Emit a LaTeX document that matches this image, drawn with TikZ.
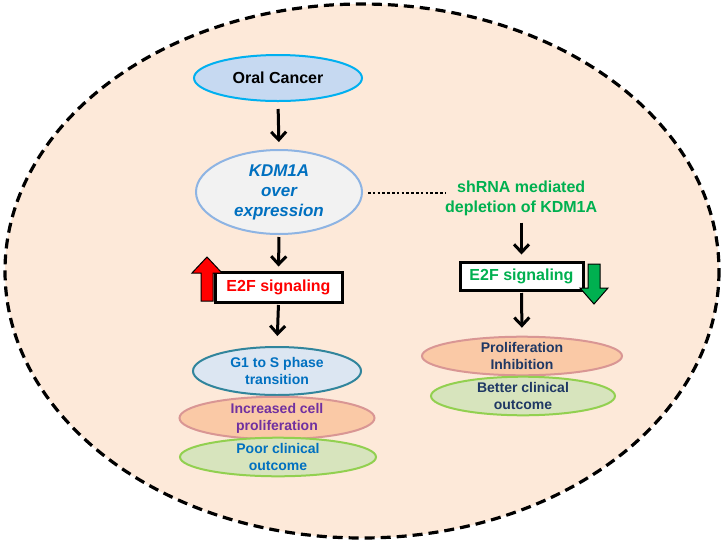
\documentclass[tikz,border=0pt]{standalone}
\usepackage{fontspec}
\setmainfont{Liberation Sans}
\usetikzlibrary{shapes.geometric,arrows.meta}
\definecolor{bgpeach}{HTML}{FDE9D9}
\definecolor{ocfill}{HTML}{C6D9F1}
\definecolor{ocdraw}{HTML}{00B0F0}
\definecolor{kdmfill}{HTML}{F2F2F2}
\definecolor{kdmdraw}{HTML}{8EB4E3}
\definecolor{txtblue}{HTML}{0070C0}
\definecolor{gfill}{HTML}{DCE6F2}
\definecolor{gdraw}{HTML}{31859C}
\definecolor{pfill}{HTML}{FAC9A6}
\definecolor{pdraw}{HTML}{D99694}
\definecolor{purp}{HTML}{7030A0}
\definecolor{grfill}{HTML}{D7E4BD}
\definecolor{grdraw}{HTML}{92D050}
\definecolor{navy}{HTML}{1F3864}
\definecolor{mygreen}{HTML}{00B050}
\begin{document}
\begin{tikzpicture}[x=1pt,y=-1pt,
  oval/.style={ellipse,inner sep=0pt,line width=2pt,align=center,font=\bfseries\fontsize{14}{17}\selectfont},
  sigbox/.style={rectangle,draw=black,fill=white,line width=3pt,inner sep=0pt,font=\bfseries\fontsize{16}{19}\selectfont},
  flow/.style={line width=3pt,-{Straight Barb[length=8pt,width=15pt,line width=3pt]}},
  bigarrow/.style={draw=black,line width=1pt,line join=miter}]
\useasboundingbox (0,0) rectangle (724,542);
\draw[fill=bgpeach,draw=black,line width=3.2pt,dash pattern=on 10pt off 6pt] (362,271) ellipse [x radius=357, y radius=267];

\node[oval,fill=ocfill,draw=ocdraw,minimum width=168pt,minimum height=46pt,font=\bfseries\fontsize{16}{19}\selectfont] (oral) at (278,78) {Oral Cancer};
\node[oval,fill=kdmfill,draw=kdmdraw,minimum width=166pt,minimum height=84pt,text=txtblue,font=\bfseries\itshape\fontsize{17}{20}\selectfont] (kdm) at (279,192) {KDM1A\\over\\expression};

\node[sigbox,text=red,minimum width=127pt,minimum height=30pt] (e2fl) at (278.5,287) {E2F signaling};
\draw[bigarrow,fill=red] (201,301) -- (201,273) -- (192,273) -- (207,257) -- (222,273) -- (213,273) -- (213,301) -- cycle;

\node[oval,fill=gfill,draw=gdraw,minimum width=168pt,minimum height=48pt,text=txtblue] (g1) at (277,371) {G1 to S phase\\transition};
\node[oval,fill=pfill,draw=pdraw,minimum width=195pt,minimum height=38pt,text=purp] (inc) at (277,418) {Increased cell\\proliferation};
\node[oval,fill=grfill,draw=grdraw,minimum width=196pt,minimum height=36pt,text=txtblue] (poor) at (278,457) {Poor clinical\\outcome};

\node[inner sep=0pt,align=center,text=mygreen,font=\bfseries\fontsize{16}{20}\selectfont,anchor=west] (sh) at (445,198) {shRNA mediated\\depletion of KDM1A};

\node[sigbox,text=mygreen,minimum width=123pt,minimum height=28pt] (e2fr) at (521.5,276) {E2F signaling};
\draw[bigarrow,fill=mygreen] (588,264) -- (600,264) -- (600,288) -- (608,288) -- (594,304) -- (580,288) -- (588,288) -- cycle;

\node[oval,fill=pfill,draw=pdraw,minimum width=200pt,minimum height=37pt,text=navy] (prol) at (522,356) {Proliferation\\Inhibition};
\node[oval,fill=grfill,draw=grdraw,minimum width=184pt,minimum height=32pt,text=navy] (better) at (523,396) {Better clinical\\outcome};

\draw[flow,shorten <=7pt,shorten >=7pt] (oral.south) -- (kdm.north);
\draw[flow,shorten <=2pt,shorten >=4pt] (kdm.south) -- (e2fl.north);
\draw[flow,shorten <=1.5pt,shorten >=10pt] (e2fl.south) -- (g1.north);
\draw[line width=2.5pt,dash pattern=on 2.5pt off 2.3pt,shorten <=5pt] ([yshift=-1pt]kdm.east) -- ([yshift=-1pt]sh.west |- kdm.east);
\draw[flow,shorten <=7pt,shorten >=6pt] (sh.south -| e2fr.north) -- (e2fr.north);
\draw[flow,shorten <=1.5pt,shorten >=8pt] (e2fr.south) -- (prol.north);
\end{tikzpicture}
\end{document}
